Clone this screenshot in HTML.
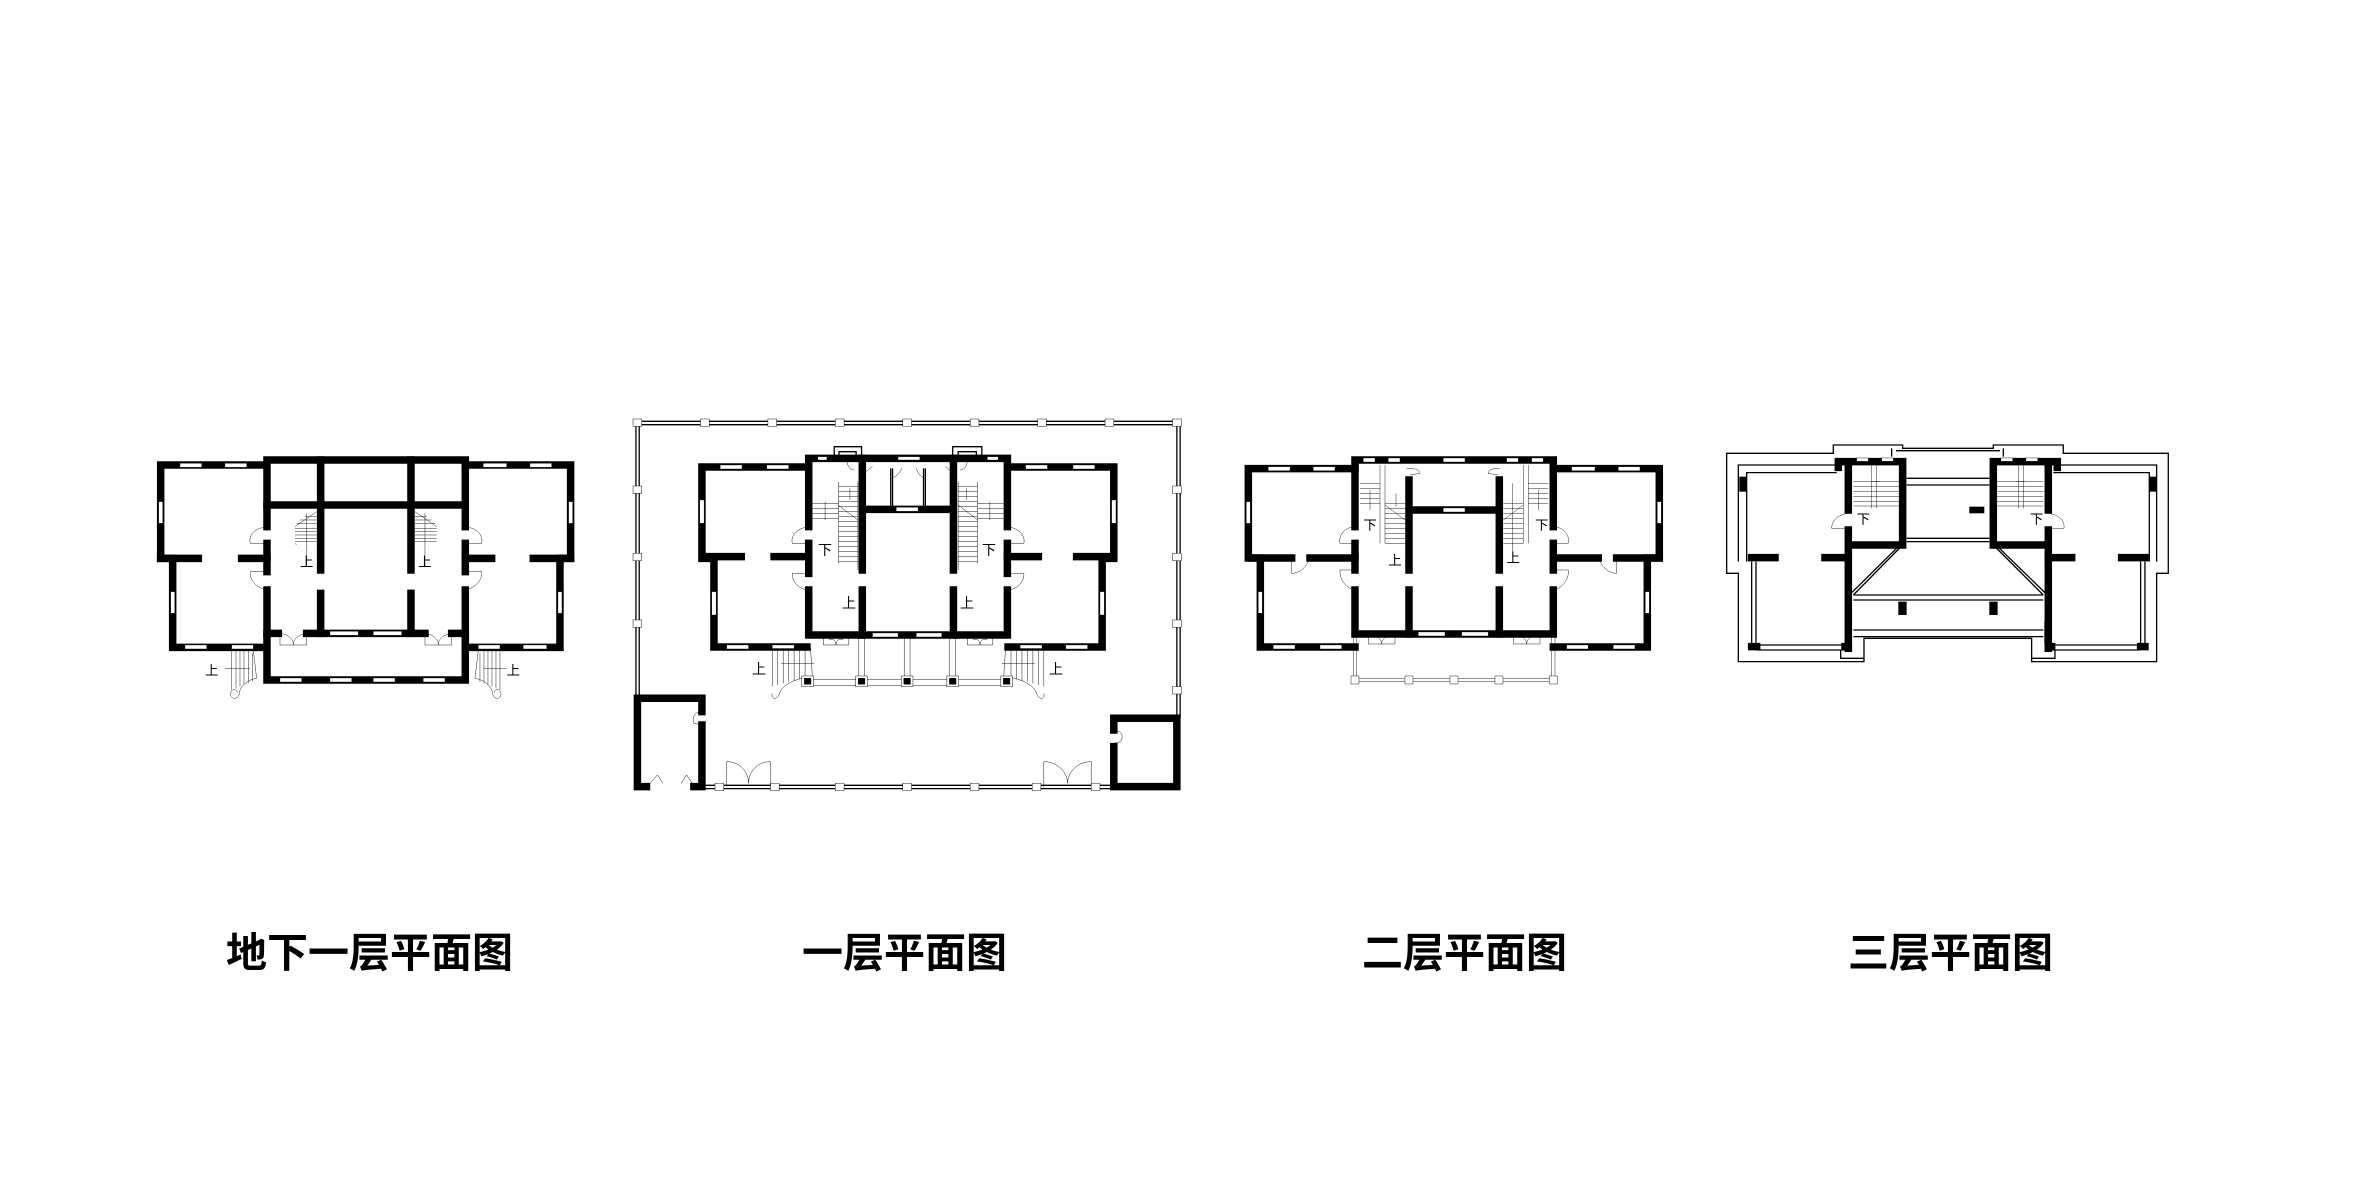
<!DOCTYPE html>
<html><head><meta charset="utf-8">
<style>
html,body{margin:0;padding:0;background:#fff;}
svg{display:block}
.w{fill:none;stroke:#000;stroke-width:7.5;stroke-linecap:square;vector-effect:non-scaling-stroke}
.t{fill:none;stroke:#000;stroke-width:1.3;vector-effect:non-scaling-stroke}
.win{fill:#fff;stroke:#000;stroke-width:1;vector-effect:non-scaling-stroke}
.post{fill:#fff;stroke:#000;stroke-width:1.3;vector-effect:non-scaling-stroke}
.col{fill:#000;stroke:#000;stroke-width:1.3;vector-effect:non-scaling-stroke}
.lb{font-family:"Liberation Sans","Noto Sans CJK SC",sans-serif;font-weight:bold;font-size:41px;fill:#000}
.sm{font-family:"Liberation Sans","Noto Sans CJK SC",sans-serif;font-size:40px;fill:#000}
</style></head>
<body>
<svg width="2362" height="1181" viewBox="0 0 2362 1181" xmlns="http://www.w3.org/2000/svg">
<rect width="2362" height="1181" fill="#fff"/>

<!-- PLAN 1 -->
<g transform="translate(140,440) scale(0.3333)">
  <path class="w" d="M370,75 H62 V355 H98 V622 H370"/>
  <path class="w" d="M976,75 H1292 V355 H1260 V622 H976"/>
  <path class="w" d="M381,260 V60 H976 V260 M976,310 V395 M976,450 V720 H381 V450 M381,395 V310"/>
  <path class="w" d="M381,195 H965 M542,60 V390 M542,460 V580 M813,60 V390 M813,460 V580"/>
  <path class="w" d="M381,580 H415 M500,580 H855 M935,580 H976"/>
  <path class="w" d="M62,355 H175 M305,355 H381 M976,355 H1055 M1180,355 H1292"/>
  <g class="win">
    <rect x="120" y="70" width="65" height="12"/><rect x="255" y="70" width="65" height="12"/>
    <rect x="1030" y="70" width="70" height="12"/><rect x="1170" y="70" width="65" height="12"/>
    <rect x="56" y="185" width="12" height="65"/><rect x="1286" y="185" width="12" height="65"/>
    <rect x="92" y="455" width="12" height="65"/><rect x="1254" y="455" width="12" height="65"/>
    <rect x="135" y="615" width="65" height="12"/><rect x="275" y="615" width="65" height="12"/>
    <rect x="1015" y="615" width="65" height="12"/><rect x="1150" y="615" width="70" height="12"/>
    <rect x="420" y="714" width="65" height="12"/><rect x="570" y="714" width="65" height="12"/>
    <rect x="700" y="714" width="65" height="12"/><rect x="850" y="714" width="65" height="12"/>
    <rect x="570" y="574" width="85" height="12"/><rect x="700" y="574" width="85" height="12"/>
  </g>
  <g class="t">
    <path d="M381,262 C340,262 325,290 331,310 H381 M381,395 H331 C328,420 350,445 381,450"/>
    <path d="M976,262 C1015,262 1030,290 1025,310 H976 M976,395 H1025 C1028,420 1005,445 976,450"/>
    <path d="M420,580 V615 H500 V580 M420,580 C450,585 460,600 460,615 M500,580 C470,585 460,600 460,615"/>
    <path d="M855,580 V615 H935 V580 M855,580 C885,585 895,600 895,615 M935,580 C905,585 895,600 895,615"/>
    <path d="M465,260 L530,215 M465,265 H530 M465,275 H530 M465,285 H530 M465,295 H530 M465,305 H530 M470,250 H530 M480,240 H530 M495,230 H530 M500,220 V380 M465,310 L470,315"/>
    <path d="M890,260 L825,215 M825,265 H890 M825,275 H890 M825,285 H890 M825,295 H890 M825,305 H890 M825,250 H885 M825,240 H875 M825,230 H860 M855,220 V380"/>
    <path d="M275,632 V750 M288,632 V745 M300,632 V740 M312,632 V735 M325,632 V730 M338,640 V725 M275,632 H340 L350,715 C320,720 300,740 298,760 C295,780 270,780 272,760 C275,745 290,745 292,758"/>
    <path d="M1080,632 V750 M1068,632 V745 M1056,632 V740 M1044,632 V735 M1032,632 V730 M1020,640 V725 M1080,632 H1015 L1005,715 C1035,720 1055,740 1058,760 C1060,780 1085,780 1083,760 C1080,745 1065,745 1063,758"/>
    <path d="M255,685 H330 M1030,685 H1100"/>
  </g>
  <text class="sm" x="480" y="380">上</text>
  <text class="sm" x="835" y="380">上</text>
  <text class="sm" x="195" y="705">上</text>
  <text class="sm" x="1100" y="705">上</text>
</g>

<!-- PLAN 2 -->
<g transform="matrix(0.3645,0,0,0.3333,621,410)">
  <path class="t" d="M45,34 H1530 M45,44 H1530 M41,38 V855 M50,38 V855 M1525,38 V925 M1534,38 V925 M230,1126 H1345 M230,1136 H1345"/>
  <g class="post">
    <rect x="33" y="27" width="24" height="22"/><rect x="218" y="27" width="24" height="22"/><rect x="403" y="27" width="24" height="22"/>
    <rect x="588" y="27" width="24" height="22"/><rect x="773" y="27" width="24" height="22"/><rect x="958" y="27" width="24" height="22"/>
    <rect x="1143" y="27" width="24" height="22"/><rect x="1328" y="27" width="24" height="22"/><rect x="1513" y="27" width="24" height="22"/>
    <rect x="33" y="228" width="24" height="22"/><rect x="33" y="430" width="24" height="22"/><rect x="33" y="630" width="24" height="22"/>
    <rect x="1513" y="228" width="24" height="22"/><rect x="1513" y="430" width="24" height="22"/><rect x="1513" y="630" width="24" height="22"/><rect x="1513" y="830" width="24" height="22"/>
    <rect x="258" y="1120" width="24" height="22"/><rect x="410" y="1120" width="24" height="22"/><rect x="588" y="1120" width="24" height="22"/>
    <rect x="773" y="1120" width="24" height="22"/><rect x="958" y="1120" width="24" height="22"/><rect x="1128" y="1120" width="24" height="22"/><rect x="1290" y="1120" width="24" height="22"/>
  </g>
  <path class="w" d="M45,1130 V865 H222 V905 M222,945 V1130 H200 M45,1130 H70"/>
  <path class="w" d="M1525,925 V1130 H1352 V1010 M1352,960 V925 H1525"/>
  <g class="t">
    <path d="M222,905 C200,905 195,925 200,940 L222,945 M1352,960 C1375,962 1380,980 1370,995 L1352,1000"/>
    <path d="M80,1120 L100,1095 L115,1120 M165,1120 L180,1095 L195,1120"/>
    <path d="M290,1130 V1055 M410,1130 V1055 M290,1055 C330,1055 350,1090 350,1120 M410,1055 C370,1055 350,1090 350,1120"/>
    <path d="M1160,1130 V1055 M1290,1130 V1055 M1160,1055 C1200,1055 1225,1090 1225,1120 M1290,1055 C1250,1055 1225,1090 1225,1120"/>
  </g>
  <path class="w" d="M510,171 H222 V445 H255 V711 H510"/>
  <path class="w" d="M1062,171 H1352 V445 H1320 V711 H1062"/>
  <path class="w" d="M515,350 V145 H1060 V350 M1060,400 V490 M1060,540 V675 H515 V540 M515,490 V400"/>
  <path class="w" d="M662,145 V480 M662,540 V675 M912,145 V480 M912,540 V675 M662,298 H912"/>
  <path class="w" d="M235,440 H330 M420,440 H515 M1060,440 H1145 M1250,440 H1340"/>
  <path class="t" d="M740,175 V298 M745,175 V298 M830,175 V298 M835,175 V298"/>
  <path class="t" d="M585,140 V110 H660 V140 M598,140 V125 H645 V140 M910,140 V110 H990 V140 M925,140 V125 H975 V140"/>
  <g class="win">
    <rect x="272" y="165" width="60" height="12"/><rect x="400" y="165" width="60" height="12"/>
    <rect x="1110" y="165" width="60" height="12"/><rect x="1240" y="165" width="60" height="12"/>
    <rect x="216" y="270" width="12" height="70"/><rect x="1346" y="270" width="12" height="70"/>
    <rect x="249" y="545" width="12" height="70"/><rect x="1314" y="545" width="12" height="70"/>
    <rect x="290" y="705" width="60" height="12"/><rect x="415" y="705" width="60" height="12"/>
    <rect x="1095" y="705" width="60" height="12"/><rect x="1220" y="705" width="60" height="12"/>
    <rect x="690" y="669" width="70" height="12"/><rect x="810" y="669" width="70" height="12"/>
    <rect x="755" y="292" width="60" height="12"/>
    <rect x="540" y="140" width="25" height="10"/><rect x="760" y="140" width="60" height="10"/><rect x="1005" y="140" width="30" height="10"/>
  </g>
  <g class="t">
    <path d="M515,350 C480,355 465,380 470,400 H515 M515,490 H470 C468,515 490,540 515,540"/>
    <path d="M1060,350 C1095,355 1110,380 1105,400 H1060 M1060,490 H1105 C1108,515 1085,540 1060,540"/>
    <path d="M597,215 V460 M650,215 V480 M597,230 H650 M597,245 H650 M597,260 H650 M597,275 H650 M597,290 H650 M597,305 H650 M597,320 H650 M597,335 H650 M597,350 H650 M597,365 H650 M597,380 H650 M597,395 H650 M597,410 H650 M597,425 H650 M597,440 H650 M597,455 H650 M525,280 H597 M525,295 H597 M525,310 H597 M525,325 H597 M595,285 L650,330 M560,275 V330 M628,235 V270"/>
    <path d="M978,215 V460 M925,215 V480 M925,230 H978 M925,245 H978 M925,260 H978 M925,275 H978 M925,290 H978 M925,305 H978 M925,320 H978 M925,335 H978 M925,350 H978 M925,365 H978 M925,380 H978 M925,395 H978 M925,410 H978 M925,425 H978 M925,440 H978 M925,455 H978 M978,280 H1050 M978,295 H1050 M978,310 H1050 M978,325 H1050 M925,285 L978,330 M1012,275 V330 M948,235 V270"/>
    <path d="M620,150 C620,170 630,180 640,180 M690,170 C680,175 670,190 660,195 M770,175 C765,190 750,205 740,205 M810,175 C815,190 825,205 835,205 M890,170 C900,175 905,190 915,195 M950,150 C950,170 940,180 930,180"/>
    <path d="M555,675 V705 H625 V675 M570,690 C580,685 590,690 590,705 M610,690 C600,685 590,690 590,705 M950,675 V705 H1020 V675 M965,690 C975,685 985,690 985,705 M1005,690 C995,685 985,690 985,705"/>
    <path d="M510,808 H1060 M510,826 H1060 M652,675 V800 M668,675 V800 M777,675 V800 M793,675 V800 M902,675 V800 M918,675 V800"/>
    <path d="M415,715 V830 M430,715 V825 M445,715 V820 M460,715 V815 M475,720 V812 M490,720 V808 M505,720 V805 M415,715 H520 L525,800 C470,805 440,830 435,850 C430,870 410,870 415,850"/>
    <path d="M1160,715 V830 M1145,715 V825 M1130,715 V820 M1115,715 V815 M1100,720 V812 M1085,720 V808 M1070,720 V805 M1160,715 H1055 L1050,800 C1105,805 1135,830 1140,850 C1145,870 1165,870 1160,850"/>
    <path d="M440,760 H530 M1045,760 H1135"/>
  </g>
  <g class="post">
    <rect x="496" y="798" width="32" height="32"/><rect x="644" y="798" width="32" height="32"/><rect x="769" y="798" width="32" height="32"/><rect x="894" y="798" width="32" height="32"/><rect x="1042" y="798" width="32" height="32"/>
  </g>
  <g class="col">
    <rect x="503" y="805" width="18" height="18"/><rect x="651" y="805" width="18" height="18"/><rect x="776" y="805" width="18" height="18"/><rect x="901" y="805" width="18" height="18"/><rect x="1049" y="805" width="18" height="18"/>
  </g>
</g>
<g>
  <text class="sm" x="818" y="555" style="font-size:14px">下</text>
  <text class="sm" x="982" y="555" style="font-size:14px">下</text>
  <text class="sm" x="842" y="608" style="font-size:14px">上</text>
  <text class="sm" x="960" y="608" style="font-size:14px">上</text>
  <text class="sm" x="752" y="674" style="font-size:14px">上</text>
  <text class="sm" x="1049" y="674" style="font-size:14px">上</text>
</g>

<!-- PLAN 3 -->
<g transform="translate(1240,440) scale(0.3333)">
  <path class="w" d="M345,86 H25 V354 H61 V621 H345"/>
  <path class="w" d="M940,86 H1258 V354 H1222 V621 H940"/>
  <path class="w" d="M345,260 V60 H940 V260 M940,310 V390 M940,450 V582 H345 V450 M345,390 V310"/>
  <path class="w" d="M507,120 V390 M507,450 V582 M778,120 V390 M778,450 V582 M507,210 H778"/>
  <path class="w" d="M37,354 H155 M210,354 H345 M950,354 H1075 M1130,354 H1258"/>
  <g class="win">
    <rect x="85" y="80" width="65" height="12"/><rect x="220" y="80" width="65" height="12"/>
    <rect x="995" y="80" width="70" height="12"/><rect x="1135" y="80" width="65" height="12"/>
    <rect x="370" y="54" width="35" height="12"/><rect x="445" y="54" width="35" height="12"/><rect x="610" y="54" width="65" height="12"/>
    <rect x="800" y="54" width="35" height="12"/><rect x="875" y="54" width="35" height="12"/>
    <rect x="19" y="185" width="12" height="65"/><rect x="1252" y="185" width="12" height="65"/>
    <rect x="55" y="455" width="12" height="65"/><rect x="1216" y="455" width="12" height="65"/>
    <rect x="100" y="615" width="65" height="12"/><rect x="240" y="615" width="65" height="12"/>
    <rect x="980" y="615" width="65" height="12"/><rect x="1120" y="615" width="65" height="12"/>
    <rect x="535" y="576" width="80" height="12"/><rect x="665" y="576" width="80" height="12"/>
    <rect x="610" y="204" width="65" height="12"/>
  </g>
  <g class="t">
    <path d="M345,260 C310,262 295,290 300,310 H345 M345,390 H300 C298,420 320,445 345,450"/>
    <path d="M940,260 C975,262 990,290 985,310 H940 M940,390 H985 C988,420 965,445 940,450"/>
    <path d="M155,354 V400 C180,400 200,380 210,354 M1130,354 V400 C1105,400 1085,380 1075,354"/>
    <path d="M385,582 V612 H465 V582 M405,590 C415,590 425,600 425,612 M445,590 C435,590 425,600 425,612"/>
    <path d="M820,582 V612 H900 V582 M840,590 C850,590 860,600 860,612 M880,590 C870,590 860,600 860,612"/>
    <path d="M500,85 C510,85 540,85 540,100 L510,105 M780,85 C770,85 745,85 745,100 L775,105"/>
    <path d="M420,75 V310 M435,75 V310 M360,130 H420 M360,145 H420 M360,160 H420 M360,175 H420 M360,190 H420 M435,190 H495 M435,205 H495 M435,220 H495 M435,235 H495 M435,250 H495 M435,265 H495 M435,280 H495 M435,295 H495 M435,310 H495 M435,195 L495,240 M390,150 V210 M468,160 V200"/>
    <path d="M865,75 V310 M850,75 V310 M865,130 H925 M865,145 H925 M865,160 H925 M865,175 H925 M865,190 H925 M790,190 H850 M790,205 H850 M790,220 H850 M790,235 H850 M790,250 H850 M790,265 H850 M790,280 H850 M790,295 H850 M790,310 H850 M850,195 L790,240 M895,150 V210 M818,130 V350"/>
    <path d="M340,592 V720 M350,592 V720 M935,592 V720 M945,592 V720 M345,715 H940 M345,725 H940"/>
  </g>
  <g class="post">
    <rect x="333" y="708" width="24" height="24"/><rect x="495" y="708" width="24" height="24"/><rect x="630" y="708" width="24" height="24"/><rect x="765" y="708" width="24" height="24"/><rect x="928" y="708" width="24" height="24"/>
  </g>
  <text class="sm" x="370" y="268">下</text>
  <text class="sm" x="885" y="268">下</text>
  <text class="sm" x="445" y="375">上</text>
  <text class="sm" x="800" y="368">上</text>
</g>

<!-- PLAN 4 -->
<g transform="translate(1720,430) scale(0.3333)">
  <path class="t" d="M20,70 H340 V45 H548 V55 H820 V45 H1030 V70 H1345 V430 H1310 V695 H935 V625 H432 V695 H55 V430 H20 Z"/>
  <path class="t" d="M55,395 V105 H350 M1310,395 V105 H1000 M80,395 V128 H350 M1288,395 V128 H1000"/>
  <path class="t" d="M515,55 V80 M528,62 H840 M850,55 V80 M560,145 H808 M560,165 H808 M560,325 H808 M560,335 H808"/>
  <path class="t" d="M548,345 L400,495 M540,345 L395,488 M820,345 L970,495 M828,345 L975,488 M400,495 H970 M400,510 H970 M400,600 H970 M400,620 H970 M362,660 V685 H432 M935,685 H1005 V660"/>
  <path class="t" d="M95,395 V655 M108,395 V655 M1262,395 V655 M1275,395 V655 M110,645 H380 M110,660 H380 M990,645 H1260 M990,660 H1260 M383,575 V640 M393,575 V640 M975,575 V640 M985,575 V640"/>
  <path class="w" d="M355,112 V95 H548 V345 H385 V655 M385,240 V95 M385,300 V345"/>
  <path class="w" d="M1012,112 V95 H820 V345 H985 V655 M985,240 V95 M985,300 V345"/>
  <path class="w" d="M95,383 H165 M315,383 H385 M985,383 H1055 M1205,383 H1275 M95,650 H110 M375,650 H385 M985,650 H995 M1262,650 H1275"/>
  <g class="win">
    <rect x="410" y="84" width="35" height="10"/><rect x="485" y="84" width="35" height="10"/><rect x="843" y="84" width="35" height="10"/><rect x="918" y="84" width="35" height="10"/>
  </g>
  <g class="t">
    <path d="M400,155 H540 M400,170 H540 M400,185 H540 M400,200 H540 M400,215 H540 M400,228 H540 M455,95 V235 M470,95 V235 M455,155 H480"/>
    <path d="M830,155 H970 M830,170 H970 M830,185 H970 M830,200 H970 M830,215 H970 M830,228 H970 M895,95 V235 M910,95 V235 M888,155 H915"/>
    <path d="M385,250 C350,255 335,275 335,295 H385 M985,250 C1020,255 1035,275 1032,295 H985"/>
  </g>
  <rect x="748" y="230" width="45" height="20" fill="#000"/>
  <rect x="535" y="515" width="25" height="40" fill="#000"/><rect x="808" y="515" width="25" height="40" fill="#000"/>
  <rect x="58" y="140" width="20" height="45" fill="#000"/><rect x="1290" y="140" width="20" height="45" fill="#000"/>
  <text class="sm" x="410" y="280">下</text>
  <text class="sm" x="930" y="280">下</text>
</g>

<!-- LABELS -->
<text class="lb" x="226" y="967">地下一层平面图</text>
<text class="lb" x="802" y="967">一层平面图</text>
<text class="lb" x="1362" y="967">二层平面图</text>
<text class="lb" x="1848" y="967">三层平面图</text>
</svg>
</body></html>
